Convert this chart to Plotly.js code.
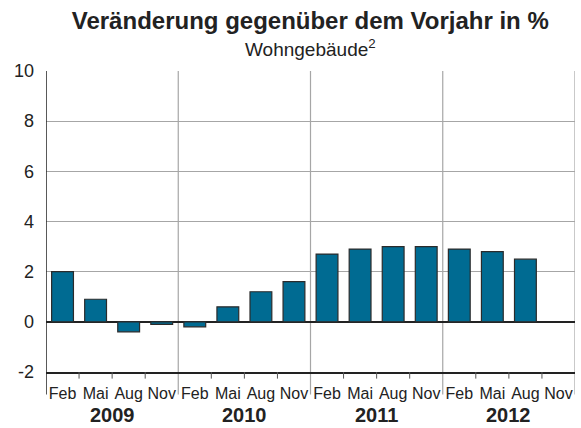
<!DOCTYPE html>
<html>
<head>
<meta charset="utf-8">
<script src="https://cdn.plot.ly/plotly-3.0.1.min.js"></script>
<style>html,body{margin:0;padding:0;background:#fff}#chart{width:581px;height:428px}</style>
</head>
<body>
<div id="chart"></div>
<script>
const months = ["Feb","Mai","Aug","Nov","Feb","Mai","Aug","Nov","Feb","Mai","Aug","Nov","Feb","Mai","Aug","Nov"];
const years = ["2009","2010","2011","2012"];
const values = [2.0,0.9,-0.4,-0.1,-0.2,0.6,1.2,1.6,2.7,2.9,3.0,3.0,2.9,2.8,2.5,null];
const yTicks = [-2,0,2,4,6,8,10];

const idx = months.map((m,i)=>i);
const perYear = months.length / years.length;
const FONT = "Liberation Sans, Arial, Helvetica, sans-serif";

const shapes = [];
// short ticks between months
for (let i = 0; i < months.length - 1; i++) {
  if ((i + 1) % perYear === 0) continue;
  shapes.push({type:"line", xref:"x", yref:"paper", x0:i+0.5, x1:i+0.5, y0:0, y1:-0.022,
    line:{color:"#555", width:1}});
}
// year separators
for (let k = 1; k <= years.length; k++) {
  const xv = k*perYear - 0.5;
  shapes.push({type:"line", xref:"x", yref:"paper", x0:xv, x1:xv, y0:-0.075, y1:1,
    line:{color:"#a6a6a6", width:1.2}, layer:"below"});
}
// left axis line extended
shapes.push({type:"line", xref:"x", yref:"paper", x0:-0.5, x1:-0.5, y0:-0.075, y1:1,
  line:{color:"#222", width:1.5}});

const annotations = years.map((y,k)=>({
  x: k*perYear + (perYear-1)/2, xref:"x", y:-0.1, yref:"paper", yanchor:"top",
  text:"<b>"+y+"</b>", showarrow:false, font:{family:FONT, size:20, color:"#222"}
}));
annotations.push({x:0.5, xref:"paper", y:1.075, yref:"paper", yanchor:"middle",
  text:"Wohngebäude<sup>2</sup>", showarrow:false, font:{family:FONT, size:19, color:"#222"}});

const trace = {
  type:"bar", x: idx, y: values,
  marker:{color:"#006b92", line:{color:"#2b2b2b", width:1.2}},
  hoverinfo:"skip"
};

const layout = {
  width:581, height:428,
  margin:{l:46, r:6, t:71, b:56},
  paper_bgcolor:"#fff", plot_bgcolor:"#fff",
  font:{family:FONT, color:"#222"},
  title:{text:"<b>Veränderung gegenüber dem Vorjahr in %</b>", x:0.534, xanchor:"center", y:0.953, yanchor:"middle",
    font:{family:FONT, size:24, color:"#222"}},
  bargap:0.34,
  showlegend:false,
  xaxis:{range:[-0.5, months.length-0.5], tickmode:"array", tickvals:idx, ticktext:months,
    ticks:"", ticklabelstandoff:6, showgrid:false, zeroline:false, showline:true, linecolor:"#222", linewidth:1.5,
    tickfont:{family:FONT, size:16, color:"#222"}, fixedrange:true},
  yaxis:{range:[-2,10], tickmode:"array", tickvals:yTicks, ticktext:yTicks.map(String),
    ticks:"", ticklabelstandoff:11, showgrid:true, gridcolor:"#a6a6a6", gridwidth:1,
    zeroline:true, zerolinecolor:"#222", zerolinewidth:2,
    showline:false, tickfont:{family:FONT, size:18, color:"#222"}, fixedrange:true},
  shapes:shapes,
  annotations:annotations
};

Plotly.newPlot("chart", [trace], layout, {displayModeBar:false, staticPlot:true});
</script>
</body>
</html>
